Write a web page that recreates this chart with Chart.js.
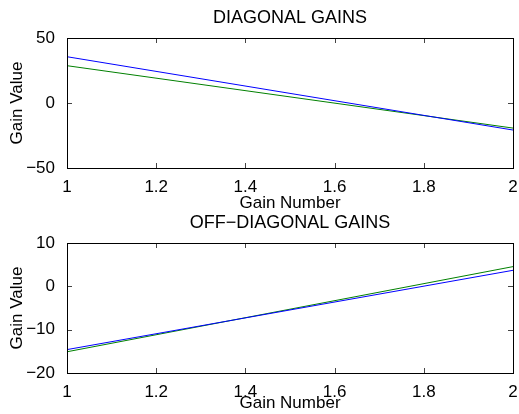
<!DOCTYPE html>
<html>
<head>
<meta charset="utf-8">
<title>Gains</title>
<script src="https://cdn.jsdelivr.net/npm/chart.js@4/dist/chart.umd.min.js"></script>
<style>
  html, body { margin: 0; padding: 0; background: #fff; }
  #wrap { position: relative; width: 519px; height: 414px; overflow: hidden; }
  #diagChart { position: absolute; left: 0; top: 0; }
  #offChart { position: absolute; left: 0; top: 207px; }
</style>
</head>
<body>
<div id="wrap">
  <canvas id="diagChart" width="519" height="216"></canvas>
  <canvas id="offChart" width="519" height="207"></canvas>
</div>
<script>
// data
const gainNumbers = [1, 2];
const diagBlue = [35.6, -20.8];
const diagGreen = [28.7, -19.3];
const offBlue = [-14.6, 3.7];
const offGreen = [-15.1, 4.55];

const xTicks = [1, 1.2, 1.4, 1.6, 1.8, 2];
const diagYTicks = [-50, 0, 50];
const offYTicks = [-20, -10, 0, 10];

const FONT = '"Liberation Sans", Arial, Helvetica, sans-serif';

// MATLAB style minus sign
function fmt(v) {
    const r = Math.round(v * 10) / 10;
    return r < 0 ? '\u2212' + String(-r) : String(r);
}

// frame + inward ticks + title centred over the axes
const matlabBox = {
    id: 'matlabBox',
    afterDraw(chart, args, opts) {
        const ctx = chart.ctx;
        const a = chart.chartArea;
        const xs = chart.scales.x, ys = chart.scales.y;
        const L = 5;
        ctx.save();
        ctx.strokeStyle = '#444';
        ctx.lineWidth = 1;
        ctx.beginPath();
        xs.ticks.forEach(t => {
            const px = Math.round(xs.getPixelForValue(t.value)) + 0.5;
            ctx.moveTo(px, a.bottom); ctx.lineTo(px, a.bottom - L);
            ctx.moveTo(px, a.top); ctx.lineTo(px, a.top + L);
        });
        ys.ticks.forEach(t => {
            const py = Math.round(ys.getPixelForValue(t.value)) + 0.5;
            ctx.moveTo(a.left, py); ctx.lineTo(a.left + L, py);
            ctx.moveTo(a.right, py); ctx.lineTo(a.right - L, py);
        });
        ctx.stroke();
        ctx.strokeStyle = '#000';
        ctx.strokeRect(Math.round(a.left) + 0.5, Math.round(a.top) + 0.5,
            Math.round(a.right - a.left), Math.round(a.bottom - a.top));
        ctx.fillStyle = '#000';
        ctx.font = '18px ' + FONT;
        ctx.textAlign = 'center';
        ctx.textBaseline = 'middle';
        ctx.fillText(opts.text, (a.left + a.right) / 2, a.top - 20);
        ctx.restore();
    }
};

function makeChart(id, title, blue, green, yMin, yMax, yTicks, padTop, xHeight, xTitlePad) {
    const ctx = document.getElementById(id);
    return new Chart(ctx, {
        type: 'line',
        data: {
            datasets: [
                { data: gainNumbers.map((x, i) => ({ x: x, y: blue[i] })), borderColor: '#0000ff', borderWidth: 1, pointRadius: 0, tension: 0 },
                { data: gainNumbers.map((x, i) => ({ x: x, y: green[i] })), borderColor: '#008000', borderWidth: 1, pointRadius: 0, tension: 0 }
            ]
        },
        options: {
            responsive: false,
            animation: false,
            layout: { padding: { top: padTop, right: 6, left: 0, bottom: 0 } },
            plugins: {
                legend: { display: false },
                tooltip: { enabled: false },
                matlabBox: { text: title }
            },
            scales: {
                x: {
                    type: 'linear',
                    min: xTicks[0],
                    max: xTicks[xTicks.length - 1],
                    grid: { display: false },
                    border: { display: false },
                    afterBuildTicks: s => { s.ticks = xTicks.map(v => ({ value: v })); },
                    afterFit: s => { s.height = xHeight; },
                    ticks: { color: '#000', padding: 1, maxRotation: 0, font: { family: FONT, size: 17 }, callback: v => fmt(v) },
                    title: { display: true, text: 'Gain Number', color: '#000', padding: { top: 0, bottom: xTitlePad }, font: { family: FONT, size: 17 } }
                },
                y: {
                    min: yMin,
                    max: yMax,
                    grid: { display: false },
                    border: { display: false },
                    afterBuildTicks: s => { s.ticks = yTicks.map(v => ({ value: v })); },
                    afterFit: s => { s.width = 67; },
                    ticks: { color: '#000', padding: 4, font: { family: FONT, size: 17 }, callback: v => fmt(v) },
                    title: { display: true, text: 'Gain Value', color: '#000', padding: { top: 7, bottom: 0 }, font: { family: FONT, size: 17 } }
                }
            }
        },
        plugins: [matlabBox]
    });
}

document.addEventListener('DOMContentLoaded', function() {
    makeChart('diagChart', 'DIAGONAL GAINS', diagBlue, diagGreen, -50, 50, diagYTicks, 38, 48, 2);
    makeChart('offChart', 'OFF\u2212DIAGONAL GAINS', offBlue, offGreen, -20, 10, offYTicks, 36, 41, 0);
});
</script>
</body>
</html>
